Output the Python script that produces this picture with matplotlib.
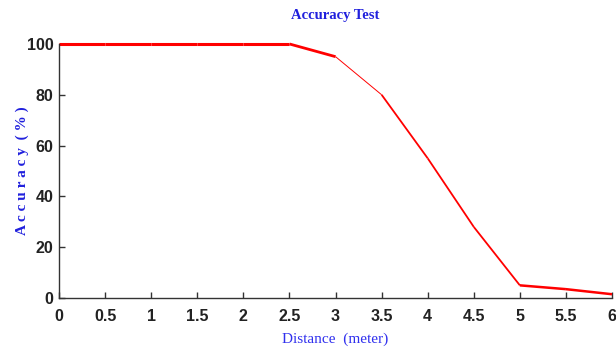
import matplotlib
matplotlib.use('Agg')
import matplotlib.pyplot as plt
from matplotlib import font_manager

# distance in meters, accuracy in percent
distance = [0, 0.5, 1, 1.5, 2, 2.5, 3, 3.5, 4, 4.5, 5, 5.5, 6]
accuracy = [100, 100, 100, 100, 100, 100, 95, 80, 55, 28, 5, 3.5, 1.5]
# line width of each segment (the original line is uneven)
seg_width = [2.2, 2.2, 2.2, 2.2, 2.2, 2.0, 0.7, 1.3, 1.3, 1.3, 1.8, 1.8]

names = {f.name for f in font_manager.fontManager.ttflist}
narrow = 'Liberation Sans Narrow' if 'Liberation Sans Narrow' in names else 'Liberation Sans'
serif = 'Liberation Serif'

fig = plt.figure(figsize=(6.16, 3.49), dpi=100)
ax = fig.add_axes([0.096, 0.146, 0.8975, 0.728])

for i in range(len(distance) - 1):
    ax.plot(distance[i:i + 2], accuracy[i:i + 2], color='red',
            lw=seg_width[i], solid_capstyle='butt', clip_on=False)

ax.set_xlim(0, 6)
ax.set_ylim(0, 100)
ax.set_xticks(distance)
ax.set_xticklabels(['0', '0.5', '1', '1.5', '2', '2.5', '3', '3.5', '4', '4.5', '5', '5.5', '6'])
ax.set_yticks([0, 20, 40, 60, 80, 100])

for s in ['top', 'right']:
    ax.spines[s].set_visible(False)
for s in ['left', 'bottom']:
    ax.spines[s].set_linewidth(1.0)
    ax.spines[s].set_color('#333333')

ax.tick_params(direction='in', length=4, width=1, color='#333333')
ax.tick_params(axis='x', pad=8)
ax.tick_params(axis='y', pad=4)
for lab in ax.get_xticklabels() + ax.get_yticklabels():
    lab.set_fontfamily(narrow)
    lab.set_fontweight('bold')
    lab.set_fontsize(11.5)
    lab.set_color('#222222')

ax.set_title('Accuracy Test', fontfamily=serif, fontweight='bold', fontsize=10.5,
             color='#2020dd', pad=18)
ax.set_xlabel('Distance  (meter)', fontfamily=serif, fontsize=11, color='#3030ee')
ax.xaxis.set_label_coords(0.5, -0.135)
ax.set_ylabel('A c c u r a c y  ( % )', fontfamily=serif, fontweight='bold', fontsize=11,
              color='#2020dd')
ax.yaxis.set_label_coords(-0.055, 0.5)

fig.savefig('out.png', dpi=100)
